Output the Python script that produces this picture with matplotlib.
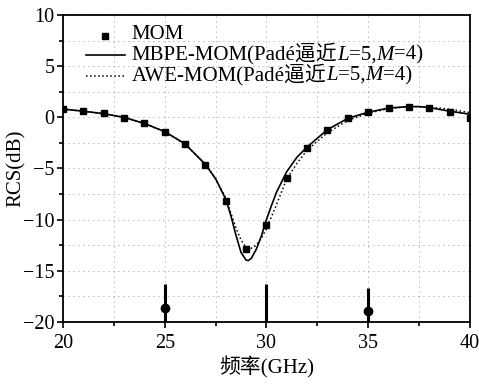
import matplotlib.pyplot as plt
from matplotlib.ticker import MultipleLocator
from matplotlib.offsetbox import (AnchoredOffsetbox, DrawingArea, HPacker,
                                  TextArea, VPacker)
from matplotlib.lines import Line2D

# MOM reference points
mom_f = list(range(20, 41))
mom_rcs = [0.8, 0.65, 0.4, -0.1, -0.6, -1.4, -2.6, -4.7, -8.2, -12.85, -10.5,
           -5.9, -3.0, -1.2, -0.1, 0.55, 0.9, 1.05, 0.9, 0.5, -0.05]

# MBPE-MOM curve (solid)
mbpe_f = [20, 21, 22, 23, 24, 25, 26, 27, 27.5, 28, 28.25, 28.5, 28.75, 29.0, 29.1,
          29.25, 29.5, 29.75, 30.0, 30.25, 30.5, 31, 31.5, 32, 33, 34, 35, 36, 37,
          37.5, 38, 39, 40]
mbpe_rcs = [0.8, 0.6, 0.35, 0.0, -0.6, -1.4, -2.6, -4.6, -6.0, -8.0, -9.6, -11.5,
            -13.2, -13.95, -14.0, -13.8, -12.9, -11.6, -10.0, -8.6, -7.3, -5.3,
            -3.9, -2.9, -1.2, -0.1, 0.5, 0.9, 1.05, 1.05, 0.95, 0.6, 0.3]

# AWE-MOM curve (dotted)
awe_f = [20, 21, 22, 23, 24, 25, 26, 27, 27.5, 28, 28.5, 28.75, 29.0, 29.25, 29.5,
         29.75, 30.0, 30.25, 30.5, 31, 31.5, 32, 33, 34, 35, 36, 37, 38, 39, 40]
awe_rcs = [0.8, 0.6, 0.35, 0.0, -0.6, -1.4, -2.6, -4.6, -6.0, -7.9, -10.8, -12.0,
           -12.7, -12.8, -12.5, -11.8, -10.9, -9.7, -8.5, -6.0, -4.5, -3.2, -1.5,
           -0.3, 0.4, 0.85, 1.05, 1.0, 0.8, 0.45]

# vertical marks near the bottom
stem_f = [25, 30, 35]
stem_top = [-16.3, -16.3, -16.7]
dot_f = [25, 35]
dot_y = [-18.6, -18.9]

# legend texts, split so L and M can be italic
legend_rows = [
    [('MOM', 'normal')],
    [('MBPE-MOM(Padé逼近', 'normal'), ('L', 'italic'), ('=5,', 'normal'),
     ('M', 'italic'), ('=4)', 'normal')],
    [('AWE-MOM(Padé逼近', 'normal'), ('L', 'italic'), ('=5,', 'normal'),
     ('M', 'italic'), ('=4)', 'normal')],
]

fonts = ['Liberation Serif', 'Noto Sans CJK SC']
plt.rcParams['font.family'] = fonts

fig = plt.figure(figsize=(4.79, 3.84), dpi=100)
ax = fig.add_axes([0.1315, 0.1615, 0.8495, 0.7995])

ax.plot(mom_f, mom_rcs, 's', color='black', markersize=5, linestyle='none', zorder=4)
ax.plot(mbpe_f, mbpe_rcs, '-', color='black', linewidth=1.2, zorder=3)
ax.plot(awe_f, awe_rcs, ':', color='black', linewidth=1.1, zorder=3)

ax.vlines(stem_f, -20, stem_top, color='black', linewidth=2.2, zorder=4)
ax.plot(dot_f, dot_y, 'o', color='black', markersize=6, zorder=4)

ax.set_xlim(20, 40)
ax.set_ylim(-20, 10)
ax.xaxis.set_major_locator(MultipleLocator(5))
ax.xaxis.set_minor_locator(MultipleLocator(2.5))
ax.yaxis.set_major_locator(MultipleLocator(5))
ax.yaxis.set_minor_locator(MultipleLocator(2.5))
ax.tick_params(which='both', direction='out', labelsize=14.5, width=1.2)
ax.tick_params(axis='x', pad=5)
ax.tick_params(axis='y', pad=2)
ax.tick_params(which='major', length=4)
ax.tick_params(which='minor', length=3)
ax.grid(True, which='both', linestyle=(0, (1, 5)), color='black', linewidth=0.6, alpha=0.55)
for s in ax.spines.values():
    s.set_linewidth(1.3)

ax.set_xlabel('频率(GHz)', fontsize=15, labelpad=2)
ax.set_ylabel('RCS(dB)', fontsize=15)
ax.yaxis.set_label_coords(-0.092, 0.5)

# hand-built legend
handles = []
for kind in ['marker', 'solid', 'dotted']:
    da = DrawingArea(28, 10, 0, 0)
    if kind == 'marker':
        da.add_artist(Line2D([14], [4], marker='s', color='black', markersize=5, linestyle='none'))
    elif kind == 'solid':
        da.add_artist(Line2D([0, 28], [4, 4], color='black', linewidth=1.2))
    else:
        da.add_artist(Line2D([0, 28], [4, 4], color='black', linewidth=1.1, linestyle=':'))
    handles.append(da)

rows = []
for da, parts in zip(handles, legend_rows):
    texts = [TextArea(t, textprops=dict(fontsize=15, family=fonts, style=st)) for t, st in parts]
    label = HPacker(children=texts, pad=0, sep=0, align='baseline')
    rows.append(HPacker(children=[da, label], pad=0, sep=5, align='center'))
box = VPacker(children=rows, pad=0, sep=-1, align='left')
anchored = AnchoredOffsetbox(loc='upper left', child=box, frameon=False,
                             bbox_to_anchor=(0.042, 0.985), bbox_transform=ax.transAxes,
                             borderpad=0)
ax.add_artist(anchored)

fig.savefig('out.png', dpi=100)
